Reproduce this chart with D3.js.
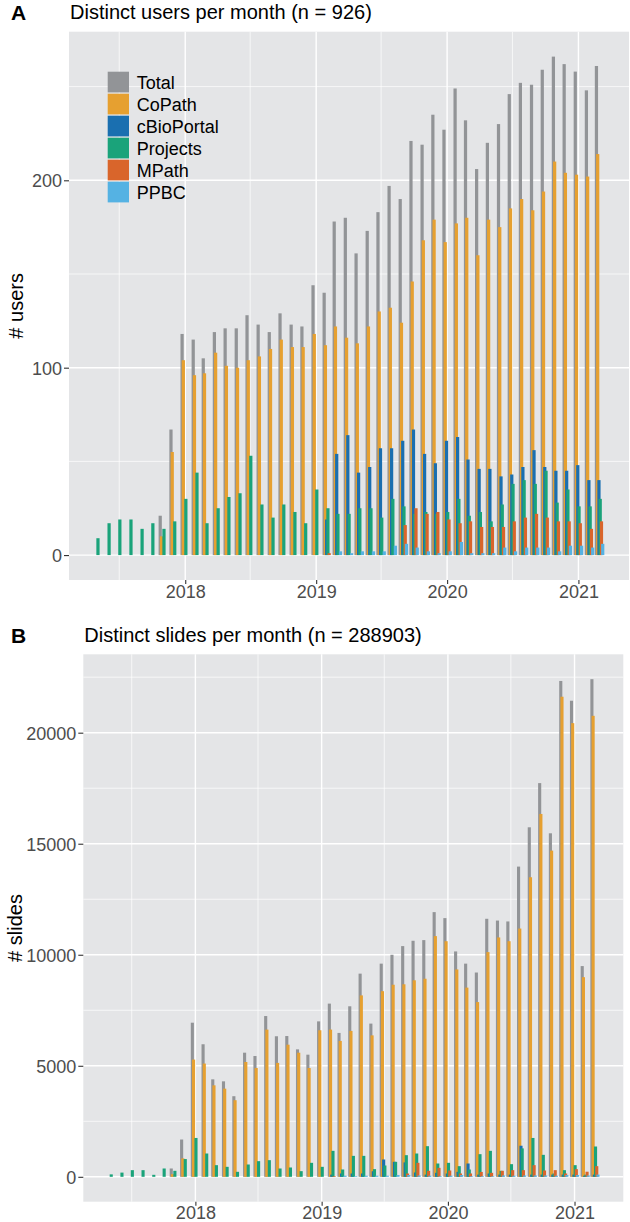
<!DOCTYPE html>
<html>
<head>
<meta charset="utf-8">
<script src="https://cdn.jsdelivr.net/npm/d3@7"></script>
<style>
  body { margin: 0; background: #fff; }
  text { font-family: "Liberation Sans", Arial, sans-serif; }
</style>
</head>
<body>
<div class="chartHolder"></div>
<script>
// months shown on both panels (May 2017 .. Mar 2021)
var months = [
  "2017-05","2017-06","2017-07","2017-08","2017-09","2017-10","2017-11","2017-12",
  "2018-01","2018-02","2018-03","2018-04","2018-05","2018-06","2018-07","2018-08","2018-09","2018-10","2018-11","2018-12",
  "2019-01","2019-02","2019-03","2019-04","2019-05","2019-06","2019-07","2019-08","2019-09","2019-10","2019-11","2019-12",
  "2020-01","2020-02","2020-03","2020-04","2020-05","2020-06","2020-07","2020-08","2020-09","2020-10","2020-11","2020-12",
  "2021-01","2021-02","2021-03"
];
var seriesNames = ["Total", "CoPath", "cBioPortal", "Projects", "MPath", "PPBC"];
var seriesColors = ["#929497", "#E6A030", "#1A6FB0", "#1AA37A", "#D9652B", "#55B2E3"];

var yearTicks = ["2018", "2019", "2020", "2021"];

// panel A: distinct users per month
var usersTotal = [null,null,null,null,null,null,21,67,
  118,115,105,119,121,121,128,123,119,129,123,122,
  144,140,178,180,161,173,183,197,190,221,219,235,
  227,249,232,206,220,230,246,252,251,259,266,262,
  258,248,261];
var usersCoPath = [null,null,null,null,null,null,10,55,
  104,96,97,108,101,100,104,106,110,115,111,111,
  118,112,122,116,113,122,130,132,124,146,168,179,
  167,177,180,160,179,175,185,190,184,194,210,204,
  203,202,214];
var usersCbio = [null,null,null,null,null,null,null,null,
  null,null,null,null,null,null,null,null,null,null,null,null,
  null,19,54,64,44,47,57,57,61,67,54,49,
  61,63,51,46,46,42,43,47,56,47,45,45,
  48,40,40];
var usersProjects = [9,17,19,19,14,17,14,18,
  30,44,17,25,31,33,53,27,20,27,23,17,
  35,25,22,22,25,25,20,30,26,22,23,22,
  23,30,21,23,18,27,38,40,38,45,28,35,
  26,26,30];
var usersMPath = [null,null,null,null,null,null,null,null,
  null,null,null,null,null,null,null,null,null,null,null,null,
  null,1,null,null,null,null,null,null,16,25,22,23,
  19,17,18,15,15,15,18,20,22,20,18,18,
  17,14,18];
var usersPPBC = [null,null,null,null,null,null,null,null,
  null,null,null,null,null,null,null,null,null,null,null,null,
  null,null,2,1,2,2,2,5,6,4,2,1,
  2,7,1,1,1,4,2,4,4,4,2,5,
  5,4,6];

// panel B: distinct slides per month
var slidesTotal = [null,null,null,null,null,null,375,1680,
  6940,5970,4390,4300,3630,5590,5440,7240,6330,6340,5740,5500,
  7000,7800,6480,7680,9150,6900,9600,10000,10390,10630,10660,11920,
  11650,10150,9600,9200,11620,11540,11500,13970,15740,17730,15470,22330,
  21440,9490,22410];
var slidesCoPath = [null,null,null,null,null,null,120,830,
  5280,5100,4120,3970,3450,5170,4900,6630,5130,5950,5590,4900,
  6600,6630,6120,6570,8170,6370,8360,8650,8670,8850,8920,10840,
  10610,9340,8520,7870,10120,10780,10610,11180,13490,16340,14690,21620,
  20430,8990,20760];
var slidesCbio = [null,null,null,null,null,null,null,null,
  null,null,null,null,null,null,null,null,null,null,null,null,
  null,100,150,150,150,250,780,675,650,195,100,180,
  150,225,600,100,150,100,100,1400,100,100,100,100,
  100,50,100];
var slidesProjects = [110,190,300,300,90,375,270,800,
  1750,1050,525,450,225,555,705,750,375,420,255,630,
  450,1170,330,944,944,345,510,675,975,1050,1380,600,
  630,480,330,1020,1170,270,570,1280,1750,990,150,300,
  525,100,1365];
var slidesMPath = [null,null,null,null,null,null,null,null,
  null,null,null,null,null,null,null,null,null,null,null,null,
  null,30,null,null,null,null,null,null,150,630,270,405,
  285,150,150,220,180,270,300,300,525,285,300,150,
  345,230,480];
var slidesPPBC = [null,null,null,null,null,null,null,null,
  null,null,null,null,null,null,null,null,null,null,null,null,
  null,null,50,30,50,50,50,80,80,60,50,30,
  50,80,30,30,30,60,50,60,60,60,50,80,
  80,60,100];

var usersMajor = [0, 100, 200], usersMinor = [50, 150, 250];
var slidesMajor = [0, 5000, 10000, 15000, 20000], slidesMinor = [2500, 7500, 12500, 17500, 22500];
var midYears = ["2017-07", "2018-07", "2019-07", "2020-07"];

var width = 630;
var height = 1222;
var parseMonth = d3.utcParse("%Y-%m");
var parseYear = d3.utcParse("%Y");
var dates = months.map(parseMonth);

var svg = d3
  .select(".chartHolder")
  .append("svg")
  .attr("width", width)
  .attr("height", height);

function drawPanel(cfg) {
  var g = svg.append("g");
  var series = cfg.series;
  var maxVal = d3.max(series[0], (d) => d || 0);

  var xScale = d3
    .scaleUtc()
    .domain([Date.UTC(2017, 1, 11), Date.UTC(2021, 4, 22)])
    .range([cfg.left, cfg.right]);
  var yScale = d3
    .scaleLinear()
    .domain([-0.05 * maxVal, 1.05 * maxVal])
    .range([cfg.bottom, cfg.top]);

  // panel background + grid
  g.append("rect")
    .attr("x", cfg.left)
    .attr("y", cfg.top)
    .attr("width", cfg.right - cfg.left)
    .attr("height", cfg.bottom - cfg.top)
    .attr("fill", "#E4E5E7");

  g.selectAll(".ymin").data(cfg.minor).enter().append("line")
    .attr("x1", cfg.left).attr("x2", cfg.right)
    .attr("y1", (d) => yScale(d)).attr("y2", (d) => yScale(d))
    .attr("stroke", "#fff").attr("stroke-width", 0.7);
  g.selectAll(".xmin").data(midYears.map(parseMonth)).enter().append("line")
    .attr("x1", (d) => xScale(d)).attr("x2", (d) => xScale(d))
    .attr("y1", cfg.top).attr("y2", cfg.bottom)
    .attr("stroke", "#fff").attr("stroke-width", 0.7);
  g.selectAll(".ymaj").data(cfg.major).enter().append("line")
    .attr("x1", cfg.left).attr("x2", cfg.right)
    .attr("y1", (d) => yScale(d)).attr("y2", (d) => yScale(d))
    .attr("stroke", "#fff").attr("stroke-width", 1.4);
  g.selectAll(".xmaj").data(yearTicks.map(parseYear)).enter().append("line")
    .attr("x1", (d) => xScale(d)).attr("x2", (d) => xScale(d))
    .attr("y1", cfg.top).attr("y2", cfg.bottom)
    .attr("stroke", "#fff").attr("stroke-width", 1.4);

  // dodged, overlapping bars: each series shifted by a few days
  var d0 = dates[0];
  var step = xScale(d3.utcHour.offset(d0, 3.5 * 24)) - xScale(d0);
  var barW = xScale(d3.utcDay.offset(d0, 9)) - xScale(d0);

  series.forEach(function (vals, i) {
    var rows = vals
      .map((v, j) => ({ date: dates[j], v: v }))
      .filter((d) => d.v != null && d.v > 0);
    g.append("g")
      .selectAll("rect")
      .data(rows)
      .enter()
      .append("rect")
      .attr("x", (d) => xScale(d.date) + (i - 2.5) * step - barW / 2)
      .attr("y", (d) => yScale(d.v))
      .attr("width", barW)
      .attr("height", (d) => yScale(0) - yScale(d.v))
      .attr("fill", seriesColors[i]);
  });

  // axes
  var yAxis = d3.axisLeft(yScale)
    .tickValues(cfg.major)
    .tickFormat(d3.format("d"))
    .tickSize(5).tickPadding(2);
  var yg = g.append("g").attr("transform", "translate(" + cfg.left + ",0)").call(yAxis);
  var xAxis = d3.axisBottom(xScale)
    .tickValues(yearTicks.map(parseYear))
    .tickFormat(d3.utcFormat("%Y"))
    .tickSize(4).tickPadding(1);
  var xg = g.append("g").attr("transform", "translate(0," + cfg.bottom + ")").call(xAxis);
  [yg, xg].forEach(function (ax) {
    ax.select(".domain").remove();
    ax.selectAll("line").attr("stroke", "#333").attr("stroke-width", 1.1);
    ax.selectAll("text")
      .attr("fill", "#4D4D4D")
      .style("font-size", "18px")
      .style("font-family", '"Liberation Sans", Arial, sans-serif');
  });
  yg.selectAll("text").attr("dy", "0.35em");
  xg.selectAll("text").attr("dy", "0.7em");

  // titles
  g.append("text")
    .attr("x", cfg.left + 1)
    .attr("y", cfg.titleY)
    .style("font-size", "20px")
    .text(cfg.title);
  g.append("text")
    .attr("x", 11)
    .attr("y", cfg.titleY + 1)
    .style("font-size", "21px")
    .style("font-weight", "bold")
    .text(cfg.tag);
  g.append("text")
    .attr("transform", "translate(" + cfg.ylabX + "," + (cfg.top + cfg.bottom) / 2 + ") rotate(-90)")
    .attr("text-anchor", "middle")
    .style("font-size", "20px")
    .text(cfg.ylab);
}

drawPanel({
  series: [usersTotal, usersCoPath, usersCbio, usersProjects, usersMPath, usersPPBC],
  left: 69, right: 629, top: 31.7, bottom: 580,
  major: usersMajor, minor: usersMinor,
  title: "Distinct users per month (n = 926)", tag: "A", titleY: 19,
  ylab: "# users", ylabX: 22.5
});

drawPanel({
  series: [slidesTotal, slidesCoPath, slidesCbio, slidesProjects, slidesMPath, slidesPPBC],
  left: 83.3, right: 623.3, top: 654.3, bottom: 1201.7,
  major: slidesMajor, minor: slidesMinor,
  title: "Distinct slides per month (n = 288903)", tag: "B", titleY: 642,
  ylab: "# slides", ylabX: 21.7
});

// legend (panel A only)
var legend = svg.append("g").attr("transform", "translate(107.7,71.7)");
legend.selectAll("rect").data(seriesNames).enter().append("rect")
  .attr("x", 0)
  .attr("y", (d, i) => i * 22)
  .attr("width", 21.3)
  .attr("height", 20.7)
  .attr("fill", (d, i) => seriesColors[i]);
legend.selectAll("text").data(seriesNames).enter().append("text")
  .attr("x", 29)
  .attr("y", (d, i) => i * 22 + 17)
  .style("font-size", "18px")
  .text((d) => d);
</script>
</body>
</html>
